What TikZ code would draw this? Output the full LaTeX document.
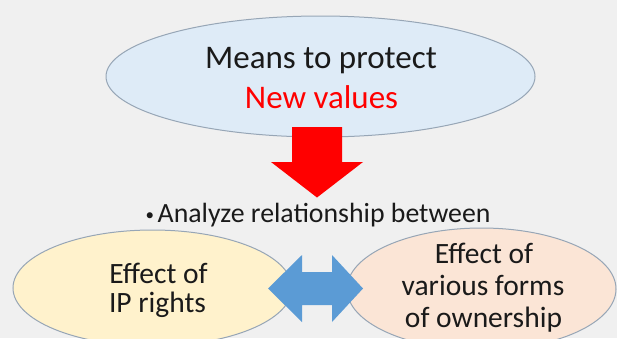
\documentclass[tikz,border=0pt]{standalone}
\usepackage{fontspec}
\setmainfont{Carlito}
\usetikzlibrary{shapes.geometric}
\definecolor{bg}{HTML}{F0F0F0}
\definecolor{topfill}{HTML}{DEEBF7}
\definecolor{lftfill}{HTML}{FFF2CC}
\definecolor{rgtfill}{HTML}{FBE5D6}
\definecolor{edge}{HTML}{97A6B6}
\definecolor{txt}{HTML}{1A1A1A}
\definecolor{redarrow}{HTML}{FF0000}
\definecolor{bluearrow}{HTML}{5B9BD5}
\tikzset{
  oval/.style={ellipse, draw=edge, line width=1pt, inner sep=0pt},
  bigtext/.style={font=\fontsize{33}{40}\selectfont, text=txt, inner sep=0pt, anchor=base},
  midtext/.style={font=\fontsize{29.5}{32}\selectfont, text=txt, inner sep=0pt, anchor=base},
}
\begin{document}
\begin{tikzpicture}[x=1pt,y=-1pt]
\fill[bg] (0,0) rectangle (617,338);
\useasboundingbox (0,0) rectangle (617,338);
\begin{scope}
\clip (0,0) rectangle (617,338);
% top ellipse
\node[oval, fill=topfill, minimum width=429pt, minimum height=121pt] (top) at (320.5,76.5) {};
\node[bigtext] (t1) at (321,68) {Means to protect};
\node[bigtext, text=redarrow] (t2) at (321.5,108) {New values};
% red arrow
\fill[redarrow] (292,127) -- (342,127) -- (342,162) -- (363,162) -- (317,197.5) -- (271,162) -- (292,162) -- cycle;
% bullet text
\node[midtext, font=\fontsize{27.8}{32}\selectfont, anchor=base west] (bul) at (145.5,222) {{\fontsize{17}{17}\selectfont\raisebox{2pt}{•}}\kern3.5pt Analyze relationship between};
% lower ellipses
\node[oval, fill=lftfill, minimum width=279pt, minimum height=116pt] (lft) at (152.5,288) {};
\node[oval, fill=rgtfill, minimum width=269pt, minimum height=122pt] (rgt) at (481.5,289) {};
\node[midtext] (l1) at (158.5,283) {Effect of};
\node[midtext] (l2) at (157.5,312) {IP rights};
\node[midtext] (r1) at (484,263) {Effect of};
\node[midtext] (r2) at (483,295) {various forms};
\node[midtext] (r3) at (483.5,327) {of ownership};
% blue double arrow
\fill[bluearrow] (268,288.5) -- (302,255) -- (302,272) -- (332,272) -- (332,255) -- (363,288.5) -- (332,322) -- (332,305) -- (302,305) -- (302,322) -- cycle;
\end{scope}
\end{tikzpicture}
\end{document}
